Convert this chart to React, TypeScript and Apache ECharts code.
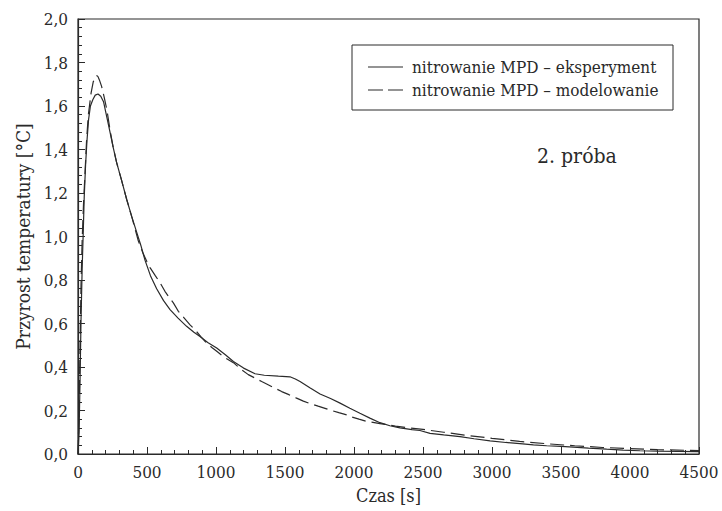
import React, { useEffect, useRef } from "react";
import * as echarts from "echarts";

const seriesNames = ["nitrowanie MPD – eksperyment", "nitrowanie MPD – modelowanie"];
const xTitle = "Czas [s]";
const yTitle = "Przyrost temperatury [°C]";
const annotation = "2. próba";

// experiment: [time s, temperature increase °C]
const experiment: [number, number][] = [
  [0, 0], [8, 0.1], [15, 0.35], [22, 0.62], [30, 0.85], [38, 1.02], [45, 1.18], [55, 1.33],
  [65, 1.44], [77, 1.54], [90, 1.6], [108, 1.63], [125, 1.65], [145, 1.655], [165, 1.645],
  [185, 1.62], [205, 1.56], [232, 1.48], [255, 1.41], [280, 1.34], [315, 1.26], [353, 1.17],
  [390, 1.09], [425, 1.02], [455, 0.96], [486, 0.89], [525, 0.82], [570, 0.76], [620, 0.705],
  [667, 0.664], [725, 0.625], [787, 0.587], [840, 0.56], [884, 0.54], [940, 0.513], [1005, 0.487],
  [1070, 0.455], [1126, 0.425], [1200, 0.395], [1283, 0.369], [1350, 0.362], [1452, 0.358],
  [1536, 0.355], [1575, 0.345], [1609, 0.333], [1680, 0.305], [1754, 0.276], [1830, 0.255],
  [1899, 0.234], [1970, 0.21], [2043, 0.187], [2115, 0.165], [2188, 0.144], [2260, 0.13],
  [2333, 0.12], [2420, 0.112], [2478, 0.108], [2551, 0.095], [2650, 0.088], [2768, 0.08],
  [2870, 0.07], [2986, 0.06], [3100, 0.053], [3203, 0.048], [3300, 0.042], [3396, 0.038],
  [3500, 0.035], [3590, 0.032], [3700, 0.027], [3831, 0.022], [3950, 0.018], [4072, 0.015],
  [4200, 0.013], [4350, 0.012], [4483, 0.011], [4500, 0.011],
];

// modelling: [time s, temperature increase °C]
const modelling: [number, number][] = [
  [0, 0], [8, 0.2], [15, 0.5], [22, 0.78], [30, 0.98], [40, 1.15], [50, 1.28], [62, 1.44],
  [75, 1.56], [85, 1.61], [95, 1.66], [110, 1.71], [125, 1.735], [135, 1.74], [145, 1.735],
  [155, 1.72], [171, 1.69], [190, 1.64], [210, 1.58], [232, 1.49], [255, 1.41], [280, 1.34],
  [315, 1.26], [353, 1.17], [390, 1.09], [437, 0.98], [470, 0.925], [498, 0.886], [522, 0.857],
  [560, 0.82], [594, 0.788], [630, 0.748], [660, 0.72], [691, 0.695], [727, 0.656], [770, 0.625],
  [812, 0.594], [848, 0.571], [890, 0.54], [932, 0.51], [970, 0.49], [1010, 0.47], [1060, 0.445],
  [1126, 0.42], [1180, 0.39], [1234, 0.365], [1280, 0.35], [1331, 0.333], [1367, 0.322],
  [1420, 0.305], [1476, 0.287], [1524, 0.274], [1580, 0.258], [1633, 0.243], [1681, 0.232],
  [1740, 0.22], [1790, 0.21], [1826, 0.202], [1890, 0.19], [1947, 0.18], [1983, 0.17],
  [2036, 0.16], [2092, 0.15], [2188, 0.14], [2300, 0.128], [2400, 0.12], [2500, 0.113],
  [2650, 0.1], [2800, 0.087], [3000, 0.072], [3200, 0.058], [3400, 0.047], [3600, 0.038],
  [3800, 0.03], [4000, 0.025], [4200, 0.02], [4400, 0.017], [4500, 0.016],
];

const FONT = "DejaVu Serif Condensed, DejaVu Serif";
const INK = "#2a2a2a";
const DASH = [14, 6];

export default function App() {
  const ref = useRef<HTMLDivElement>(null);
  useEffect(() => {
    if (!ref.current) return;
    const chart = echarts.init(ref.current, null, { renderer: "svg" });
    chart.setOption({
      animation: false,
      backgroundColor: "#fff",
      textStyle: { fontFamily: FONT, color: INK },
      grid: {
        left: 78, right: 23, top: 19, bottom: 57,
        show: true, borderColor: INK, borderWidth: 1.2, backgroundColor: "transparent",
      },
      xAxis: {
        type: "value", min: 0, max: 4500, interval: 500,
        name: xTitle, nameLocation: "middle", nameGap: 32,
        nameTextStyle: { fontFamily: FONT, fontSize: 18, color: INK },
        axisLine: { show: true, lineStyle: { color: INK, width: 1.2 } },
        axisTick: { show: true, inside: true, length: 7, lineStyle: { color: INK } },
        minorTick: { show: true, splitNumber: 5, length: 4, lineStyle: { color: INK } },
        splitLine: { show: false },
        axisLabel: {
          fontFamily: FONT, fontSize: 17, color: INK, margin: 9,
          formatter: (v: number) => String(v),
        },
      },
      yAxis: {
        type: "value", min: 0, max: 2, interval: 0.2,
        name: yTitle, nameLocation: "middle", nameGap: 46,
        nameTextStyle: { fontFamily: FONT, fontSize: 19, color: INK },
        axisLine: { show: true, lineStyle: { color: INK, width: 1.2 } },
        axisTick: { show: true, inside: true, length: 7, lineStyle: { color: INK } },
        minorTick: { show: true, splitNumber: 5, length: 4, lineStyle: { color: INK } },
        splitLine: { show: false },
        axisLabel: {
          fontFamily: FONT, fontSize: 17, color: INK, margin: 10,
          formatter: (v: number) => v.toFixed(1).replace(".", ","),
        },
      },
      graphic: [
        {
          type: "rect", shape: { x: 352, y: 45, width: 321, height: 65 },
          style: { fill: "#fff", stroke: INK, lineWidth: 1 }, z: 10,
        },
        {
          type: "line", shape: { x1: 368, y1: 67, x2: 403, y2: 67 },
          style: { stroke: INK, lineWidth: 1.2 }, z: 11,
        },
        {
          type: "line", shape: { x1: 368, y1: 90, x2: 403, y2: 90 },
          style: { stroke: INK, lineWidth: 1.2, lineDash: [15, 5] }, z: 11,
        },
        {
          type: "text", x: 412, y: 67, z: 11,
          style: { text: seriesNames[0], fontFamily: FONT, fontSize: 17, fill: INK, verticalAlign: "middle" },
        },
        {
          type: "text", x: 412, y: 90, z: 11,
          style: { text: seriesNames[1], fontFamily: FONT, fontSize: 17, fill: INK, verticalAlign: "middle" },
        },
        {
          type: "text", x: 537, y: 156, z: 11,
          style: { text: annotation, fontFamily: FONT, fontSize: 21, fill: INK, verticalAlign: "middle" },
        },
      ],
      series: [
        {
          name: seriesNames[0], type: "line", data: experiment, symbol: "none",
          lineStyle: { color: INK, width: 1.2, type: "solid" },
        },
        {
          name: seriesNames[1], type: "line", data: modelling, symbol: "none",
          lineStyle: { color: INK, width: 1.2, type: DASH },
        },
      ],
    });
    return () => chart.dispose();
  }, []);
  return <div ref={ref} style={{ position: "fixed", left: 0, top: 0, width: 722, height: 511 }} />;
}
